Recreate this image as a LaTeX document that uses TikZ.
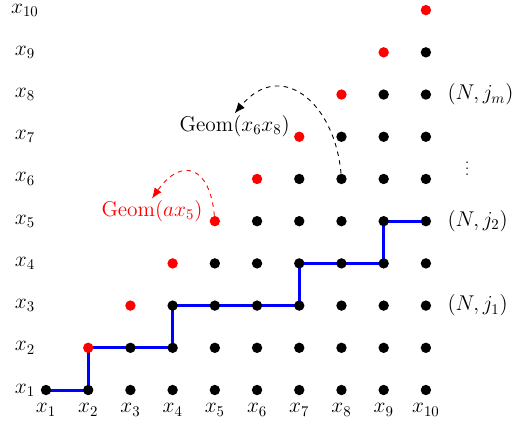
\documentclass[tikz,border=0pt]{standalone}
\usetikzlibrary{arrows.meta,positioning,backgrounds}
\definecolor{LatBlue}{RGB}{0,0,255}
\definecolor{LatRed}{RGB}{255,0,0}
\tikzset{
  lat/dot/.style={circle, fill=black, inner sep=0pt, minimum size=7pt},
  lat/diag/.style={lat/dot, fill=LatRed},
  lat/walk/.style={line width=2pt, draw=LatBlue, line join=miter},
  lat/label/.style={font=\Large, inner sep=1pt},
  lat/arc/.style={-{Latex[length=2.5mm,width=2mm]}, dashed, semithick}
}

\begin{document}
\begin{tikzpicture}[x=1cm,y=1cm]
  \useasboundingbox (-0.09,0.12) rectangle (12.04,10.24);

  % lattice points
  \node[lat/dot] (d-1-1) at (1,1) {};
  \foreach \i in {2,...,10} {
    \pgfmathtruncatemacro{\prev}{\i-1}
    \node[lat/diag] (d-\i-\i) at (\i,\i) {};
    \foreach \j in {1,...,\prev}
      \node[lat/dot] (d-\i-\j) at (\i,\j) {};
  }

  % axis labels
  \foreach \i in {1,...,10} {
    \node[lat/label] (ylab-\i) at (0.5,\i) {$x_{\i}$};
    \node[lat/label] (xlab-\i) at (\i,0.53) {$x_{\i}$};
  }

  % staircase
  \begin{scope}[on background layer]
    \draw[lat/walk] (d-1-1.center) -- (d-2-1.center) -- (d-2-2.center)
      -- (d-4-2.center) -- (d-4-3.center) -- (d-7-3.center) -- (d-7-4.center)
      -- (d-9-4.center) -- (d-9-5.center) -- (d-10-5.center);
  \end{scope}

  % right labels
  \node[lat/label, anchor=west] (nj1) at (10.47,3) {$(N,j_1)$};
  \node[lat/label, anchor=west] (nj2) at (10.47,5) {$(N,j_2)$};
  \node[lat/label, anchor=west] (njm) at (10.47,8) {$(N,j_m)$};
  \node[font=\boldmath] (vdots) at (10.98,6.35) {$\vdots$};

  % geometric jumps
  \node[lat/label, text=LatRed] (geomA) at (3.51,5.24) {$\mathrm{Geom}(ax_5)$};
  \node[lat/label] (geomB) at (5.47,7.26) {$\mathrm{Geom}(x_6x_8)$};
  \draw[lat/arc, draw=LatRed] (d-5-5) to[out=95,in=55,looseness=2] (geomA.north);
  \draw[lat/arc] (d-8-6) to[out=95,in=50,looseness=1.5] (geomB.north);
\end{tikzpicture}
\end{document}
